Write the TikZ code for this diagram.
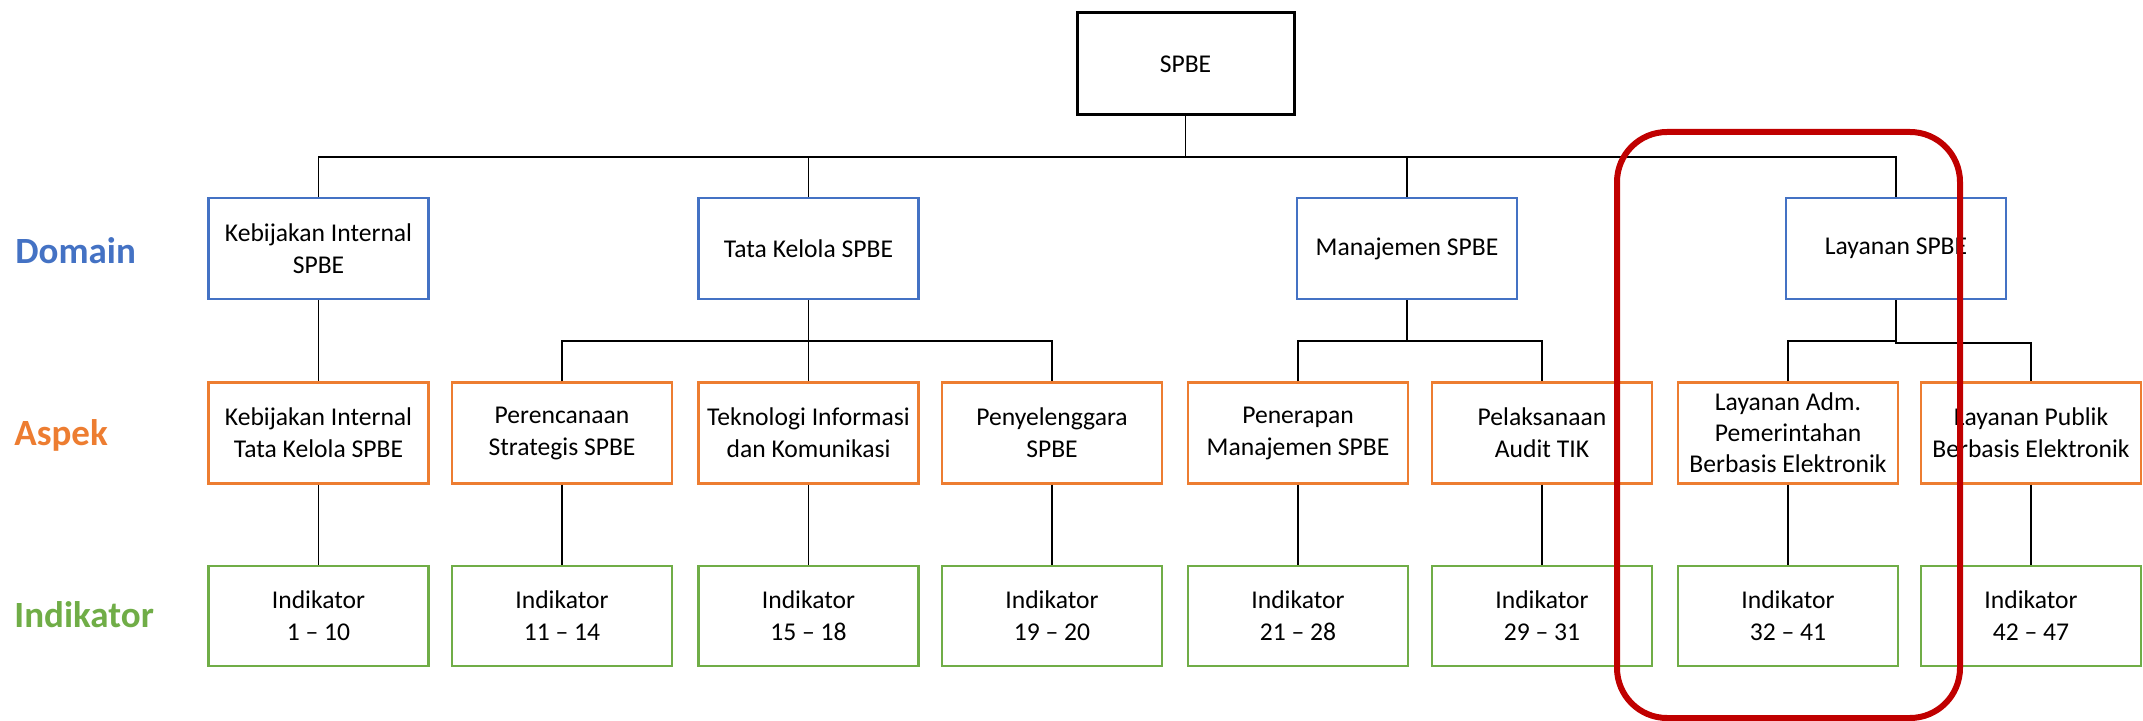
\documentclass[tikz,border=0pt]{standalone}
\usepackage{fontspec}
\setmainfont{Carlito}
\definecolor{domblue}{HTML}{4472C4}
\definecolor{aspor}{HTML}{ED7D31}
\definecolor{indgreen}{HTML}{70AD47}
\definecolor{hlred}{HTML}{C00000}
\tikzset{
  boxbase/.style={draw, rectangle, minimum width=110pt, minimum height=50.5pt, inner sep=1pt, align=center, font=\fontsize{12.8}{16}\selectfont, line width=1.2pt},
  rootbox/.style={boxbase, draw=black, line width=1.5pt, minimum width=108.5pt, minimum height=51pt},
  dombox/.style={boxbase, draw=domblue},
  aspbox/.style={boxbase, draw=aspor},
  indbox/.style={boxbase, draw=indgreen, minimum height=50pt},
  rowlabel/.style={anchor=base west, font=\fontsize{18.5}{20}\selectfont\bfseries, inner sep=0pt},
  conn/.style={draw=black, line width=0.7pt},
}
\begin{document}
\begin{tikzpicture}[x=0.5pt,y=-0.5pt]
\useasboundingbox (0,0) rectangle (2143,721);
% root
\node[rootbox] (spbe) at (1185.5,64) {SPBE};
% domains
\node[dombox] (d1) at (318.5,248.5) {Kebijakan Internal\\SPBE};
\node[dombox] (d2) at (808.5,248.5) {Tata Kelola SPBE};
\node[dombox] (d3) at (1407,248.5) {Manajemen SPBE};
\node[dombox] (d4) at (1896,248.5) {Layanan SPBE};
% aspects
\node[aspbox] (a1) at (318.5,433) {Kebijakan Internal\\Tata Kelola SPBE};
\node[aspbox] (a2) at (562,433) {Perencanaan\\Strategis SPBE};
\node[aspbox] (a3) at (808.5,433) {Teknologi Informasi\\dan Komunikasi};
\node[aspbox] (a4) at (1052,433) {Penyelenggara\\SPBE};
\node[aspbox] (a5) at (1298,433) {Penerapan\\Manajemen SPBE};
\node[aspbox] (a6) at (1542,433) {Pelaksanaan\\Audit TIK};
\node[aspbox, font=\fontsize{12.8}{15.5}\selectfont] (a7) at (1788,433) {Layanan Adm.\\Pemerintahan\\Berbasis Elektronik};
\node[aspbox] (a8) at (2031,433) {Layanan Publik\\Berbasis Elektronik};
% indicators
\node[indbox] (i1) at (318.5,616) {Indikator\\1 – 10};
\node[indbox] (i2) at (562,616) {Indikator\\11 – 14};
\node[indbox] (i3) at (808.5,616) {Indikator\\15 – 18};
\node[indbox] (i4) at (1052,616) {Indikator\\19 – 20};
\node[indbox] (i5) at (1298,616) {Indikator\\21 – 28};
\node[indbox] (i6) at (1542,616) {Indikator\\29 – 31};
\node[indbox] (i7) at (1788,616) {Indikator\\32 – 41};
\node[indbox] (i8) at (2031,616) {Indikator\\42 – 47};
% row labels
\node[rowlabel, text=domblue] (ldom) at (15,264) {Domain};
\node[rowlabel, text=aspor] (lasp) at (14,446) {Aspek};
\node[rowlabel, text=indgreen] (lind) at (14,627) {Indikator};
% connectors
\coordinate (bus) at (0,157);
\coordinate (sub) at (0,341);
\draw[conn] (spbe.south) -- (spbe.south |- bus);
\draw[conn] (d1.north) -- (d1.north |- bus) -- (d4.north |- bus) -- (d4.north);
\draw[conn] (d2.north) -- (d2.north |- bus);
\draw[conn] (d3.north) -- (d3.north |- bus);
\draw[conn] (d1.south) -- (a1.north);
\draw[conn] (d2.south) -- (d2.south |- sub);
\draw[conn] (a2.north) -- (a2.north |- sub) -- (a4.north |- sub) -- (a4.north);
\draw[conn] (a3.north) -- (d2.south |- sub);
\draw[conn] (d3.south) -- (d3.south |- sub);
\draw[conn] (a5.north) -- (a5.north |- sub) -- (a6.north |- sub) -- (a6.north);
\draw[conn, line width=1.2pt] (d4.south) -- (d4.south |- sub);
\draw[conn] (a7.north) -- (a7.north |- sub) -- (d4.south |- sub);
\draw[conn] (d4.south |- sub) -- ++(0,2) -| (a8.north);
\foreach \k in {1,...,8} { \draw[conn] (a\k.south) -- (i\k.north); }
% highlight
\draw[draw=hlred, line width=3pt, rounded corners=25pt] (1617,132) rectangle (1960,718);
\end{tikzpicture}
\end{document}
